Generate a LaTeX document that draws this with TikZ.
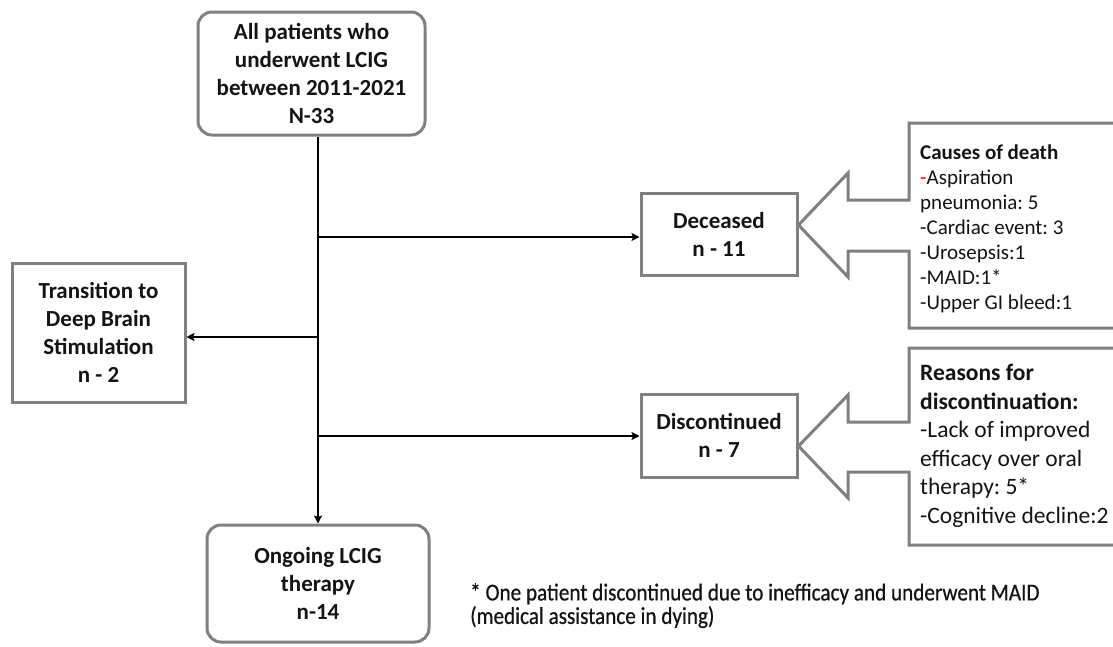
\documentclass[tikz,border=0pt]{standalone}
\usepackage{fontspec}
\setmainfont{Carlito}
\newfontfamily\condfont[FakeStretch=0.875,FakeBold=0.6]{Carlito}
\usetikzlibrary{arrows.meta}
\definecolor{boxgray}{RGB}{128,128,128}
\definecolor{txt}{RGB}{20,20,20}
\begin{document}
\frenchspacing
\begin{tikzpicture}[x=1pt,y=-1pt,
  box/.style={draw=boxgray, line width=3pt, fill=white, align=center, text=txt,
    font=\fontsize{23}{28}\selectfont\bfseries, inner sep=0pt},
  rbox/.style={box, rounded corners=14pt},
  conn/.style={line width=2.8pt, -{Stealth[length=8pt,width=8pt,inset=1.5pt]}},
  callout/.style={draw=boxgray, line width=3pt, line join=miter},
  listtext/.style={anchor=north west, align=left, inner sep=0pt, text=txt}]
\useasboundingbox (0,0) rectangle (1113,646);
\fill[white] (0,0) rectangle (1113,646);

% main boxes
\node[rbox, minimum width=227pt, minimum height=123pt] (top) at (311.5,73.5)
  {All patients who\\underwent LCIG\\between 2011-2021\\N-33};
\node[rbox, minimum width=222pt, minimum height=117pt] (ongo) at (318,583.5)
  {Ongoing LCIG\\therapy\\n-14};
\node[box, minimum width=173pt, minimum height=139pt] (trans) at (98.5,332.5)
  {Transition to\\Deep Brain\\Stimulation\\n - 2};
\node[box, minimum width=156pt, minimum height=82pt] (dec) at (719,234)
  {Deceased\\n - 11};
\node[box, minimum width=156pt, minimum height=83pt] (disc) at (719,435.5)
  {Discontinued\\n - 7};

% trunk and branches
\coordinate (jd) at (318,237);
\coordinate (jt) at (318,337);
\coordinate (jc) at (318,436);
\draw[line width=2.8pt] (top.south -| ongo.north) -- (jc);
\draw[conn] (jc) -- (ongo.north);
\draw[conn] (jd) -- (jd -| dec.west);
\draw[conn] (jt) -- (jt -| trans.east);
\draw[conn] (jc) -- (jc -| disc.west);

% callout for causes of death
\draw[callout] (1125,123) -- (909,123) -- (909,200) -- (848,200) -- (848,173)
  -- (dec.east |- 0,225) -- (848,277) -- (848,251) -- (909,251) -- (909,328) -- (1125,328);
\node[listtext, font=\fontsize{21}{25}\selectfont] (causes) at (920,145)
  {\textbf{Causes of death}\\{\color{red}-}Aspiration\\pneumonia: 5\\-Cardiac event: 3\\-Urosepsis:1\\-MAID:1*\\-Upper GI bleed:1};

% callout for reasons
\draw[callout] (1125,348) -- (909,348) -- (909,422) -- (848,422) -- (848,395)
  -- (disc.east |- 0,446) -- (848,498) -- (848,472) -- (909,472) -- (909,545) -- (1125,545);
\node[listtext, font=\fontsize{23.5}{28.5}\selectfont] (reasons) at (920,364)
  {\textbf{Reasons for}\\\textbf{discontinuation:}\\-Lack of improved\\efficacy over oral\\therapy: 5*\\-Cognitive decline:2};

% footnote
\node[anchor=north west, align=left, inner sep=0pt, text=txt,
  font=\condfont\fontsize{24.2}{23.5}\selectfont] (note) at (470,583)
  {* One patient discontinued due to inefficacy and underwent MAID\\(medical assistance in dying)};
\end{tikzpicture}
\end{document}
